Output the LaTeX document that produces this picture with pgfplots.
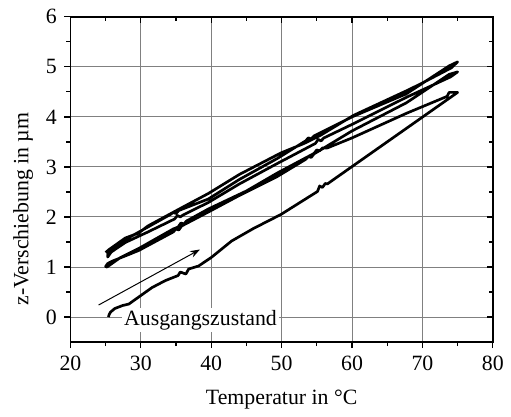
\documentclass[border=0pt]{standalone}
\usepackage{fontspec}
\setmainfont{Liberation Serif}
\usepackage{pgfplots}
\pgfplotsset{compat=1.18}
\usetikzlibrary{arrows.meta}
\begin{document}
\fontsize{11}{13}\selectfont
\begin{tikzpicture}
\pgfplotsset{
 common/.style={
  scale only axis, width=213pt, height=164pt,
  xmin=20,xmax=80,ymin=-0.5,ymax=6,
  xtick={20,30,...,80}, ytick={0,1,...,6},
  minor x tick num=1, minor y tick num=1,
  major tick length=3pt, minor tick length=2pt,
  tick style={black, line width=0.6pt},
  axis line style={line width=0.9pt},
 }}
\begin{axis}[common, xtick pos=left, ytick pos=left, tick align=outside,
  grid=major, grid style={gray, line width=0.5pt},
  /pgf/number format/assume math mode=true,
  ticklabel style={font=\fontsize{11}{13}\selectfont},
  xlabel={Temperatur in °C}, ylabel={z-Verschiebung in µm},
  xlabel style={at={(axis description cs:0.5,-0.178)}, anchor=center},
  ylabel style={at={(axis description cs:-0.112,0.409)}, anchor=center},
 ]
\addplot[black, line width=1.35pt, line join=round] coordinates {
 (25.4,0.0) (25.5,0.05) (25.7,0.1) (26.3,0.17) (27.4,0.23) (28.3,0.26) (29.7,0.40)
 (31.6,0.59) (33.5,0.73) (35.3,0.83) (35.6,0.90) (36.0,0.88) (36.4,0.86) (36.8,0.96)
 (38.2,1.02) (40.0,1.19) (42.9,1.52) (46,1.77) (49.9,2.05) (55.1,2.51) (55.4,2.62)
 (55.8,2.59) (56.2,2.67) (56.5,2.66) (57.6,2.77) (75.0,4.49)
 (73.8,4.49) (73.5,4.41)
 (67.7,4.07) (60,3.58) (56.5,3.38) (55.8,3.38) (55.4,3.32) (55.0,3.34) (54.6,3.27)
 (49.4,2.88) (45,2.52) (39.6,2.16) (36.5,1.92) (36.1,1.86) (35.7,1.88) (35.3,1.80)
 (34.6,1.76) (29.7,1.37) (27,1.18) (25.7,1.05) (25.2,1.0) (25.0,1.01)
 (25.3,1.07) (26,1.12) (29.7,1.33) (34.6,1.70) (35.0,1.76) (35.4,1.74) (35.8,1.82)
 (39.6,2.10) (44,2.43) (49.4,2.81) (53.4,3.15) (53.8,3.21) (54.2,3.19) (54.6,3.26)
 (60,3.72) (67.7,4.28) (73.8,4.85) (75,4.90) (74.0,4.80)
 (67.7,4.39) (60,3.85) (56.0,3.58) (55.6,3.52) (55.2,3.55) (54.8,3.47) (49.4,3.07)
 (44,2.66) (39.6,2.29) (36,2.04) (35.6,2.00) (35.2,2.03) (34.8,1.96) (31,1.70)
 (27.8,1.49) (25.8,1.30) (25.3,1.20) (25.3,1.25)
 (26,1.33) (27.8,1.55) (30,1.72) (34.2,2.05) (34.6,2.09) (35.0,2.07) (35.4,2.13)
 (39.6,2.36) (44,2.75) (49.4,3.17) (53.4,3.52) (53.8,3.58) (54.2,3.56) (54.6,3.62)
 (60,4.0) (67.7,4.46) (73.8,5.02) (75,5.10) (74.1,4.98)
 (69.6,4.65) (67.7,4.52) (60.2,4.03) (55.5,3.63) (53.2,3.47) (49.9,3.28) (44,2.85)
 (39.6,2.47) (36,2.2) (31,1.82) (29.7,1.68) (27.8,1.58) (26,1.40) (25.5,1.35) (25.0,1.29)
};
\addplot[black, line width=0.5pt, -{Stealth[length=5pt,width=3.5pt]}] coordinates {(24,0.24) (38.4,1.35)};
\node[anchor=west, fill=white, inner sep=1pt] at (axis cs:27.3,-0.06) {Ausgangszustand};
\coordinate (bbll) at (axis description cs:-0.1667,-0.2043);
\coordinate (bbur) at (axis description cs:1.0329,1.0518);
\end{axis}
\begin{axis}[common, xtick pos=right, ytick pos=right, tick align=inside,
  xticklabels={}, yticklabels={}]
\end{axis}
\path (bbll) rectangle (bbur);
\end{tikzpicture}
\end{document}
